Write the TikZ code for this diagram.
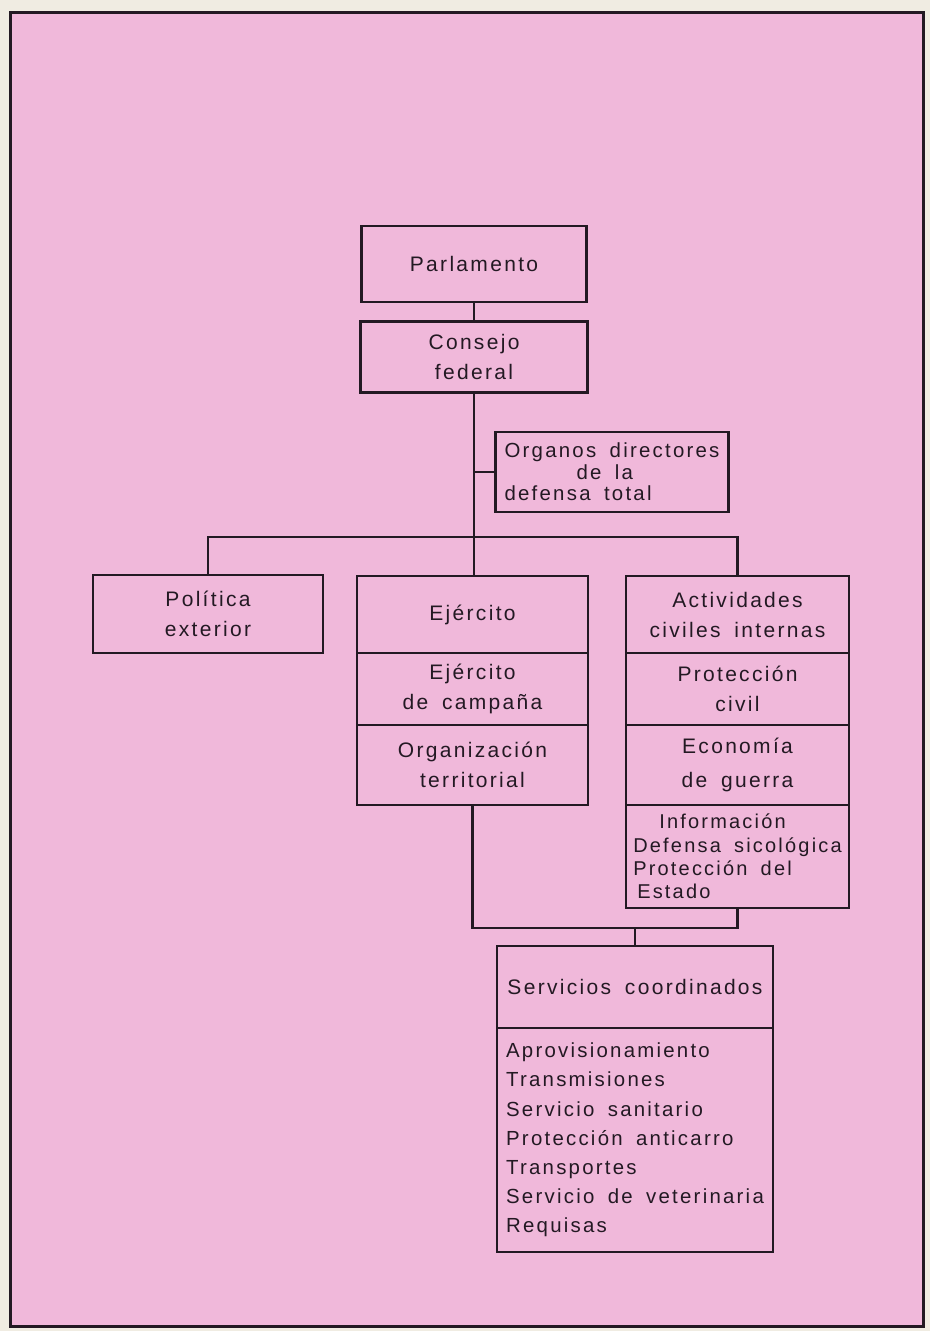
\documentclass[tikz,border=0pt]{standalone}
\usepackage{fontspec}
\setmainfont[LetterSpace=11, WordSpace=1.7]{Liberation Sans}
\usetikzlibrary{positioning}

\definecolor{pinkbg}{RGB}{240,184,218}
\definecolor{paper}{RGB}{240,236,226}
\definecolor{ink}{RGB}{35,25,35}

\begin{document}
\begin{tikzpicture}[x=0.5pt, y=-0.5pt,
    box/.style={draw=ink, line width=1.2pt, inner sep=0pt, outer sep=0pt,
        align=center, text=ink, font=\fontsize{10.5pt}{15pt}\selectfont},
    link/.style={draw=ink, line width=1.2pt}]

    % Page and frame
    \fill[paper] (0,0) rectangle (930,1331);
    \draw[ink, line width=1.5pt, fill=pinkbg] (10,13) rectangle (923,1326);

    % Junctions
    \coordinate (bar) at (474,537);
    \coordinate (low) at (635,928);

    % Top of the chart
    \node[box, minimum width=112.5pt, minimum height=38pt] (parl) at (474,264) {Parlamento};
    \node[box, minimum width=113.5pt, minimum height=35.5pt] (cons) at (474,357) {Consejo\\federal};
    \node[box, minimum width=116.5pt, minimum height=40pt, align=left,
        font=\fontsize{10.2pt}{10.8pt}\selectfont] (org) at (612,472)
        {Organos directores\\\hspace*{36pt}de la\\defensa total};

    % Left column
    \node[box, minimum width=115pt, minimum height=39pt] (pol) at (208,614) {Política\\exterior};

    % Middle column
    \node[box, minimum width=115.5pt, minimum height=38.5pt] (ej1) at (472.5,614.5) {Ejército};
    \node[box, minimum width=115.5pt, minimum height=36pt, below=0pt of ej1] (ej2) {Ejército\\de campaña};
    \node[box, minimum width=115.5pt, minimum height=40pt, below=0pt of ej2] (ej3) {Organización\\territorial};

    % Right column
    \node[box, minimum width=111.5pt, minimum height=38.5pt] (act1) at (737.5,614.5) {Actividades\\civiles internas};
    \node[box, minimum width=111.5pt, minimum height=36pt, below=0pt of act1] (act2) {Protección\\civil};
    \node[box, minimum width=111.5pt, minimum height=40pt, below=0pt of act2,
        font=\fontsize{10.5pt}{17pt}\selectfont] (act3) {Economía\\de guerra};
    \node[box, minimum width=111.5pt, minimum height=51.5pt, below=0pt of act3, align=left,
        font=\fontsize{10pt}{11.7pt}\selectfont] (act4)
        {\hspace*{13pt}Información\\Defensa sicológica\\Protección del\\\hspace*{2pt}Estado};

    % Coordinated services
    \node[box, minimum width=138pt, minimum height=41pt] (serv1) at (635,987) {Servicios coordinados};
    \node[box, minimum width=138pt, minimum height=112pt, below=0pt of serv1, align=left,
        font=\fontsize{10.2pt}{14.6pt}\selectfont] (serv2)
        {Aprovisionamiento\\Transmisiones\\Servicio sanitario\\Protección anticarro\\Transportes\\Servicio de veterinaria\\Requisas};

    % Connectors
    \draw[link] (parl.south) -- (cons.north);
    \draw[link] (cons.south) -- (cons.south |- bar);
    \draw[link] (cons.south |- org.west) -- (org.west);
    \draw[link] (pol.north) |- (bar) -| (act1.north);
    \draw[link] (bar) -- (bar |- ej1.north);
    \draw[link] (ej3.south) |- (low) -| (act4.south);
    \draw[link] (low) -- (serv1.north);

\end{tikzpicture}
\end{document}
